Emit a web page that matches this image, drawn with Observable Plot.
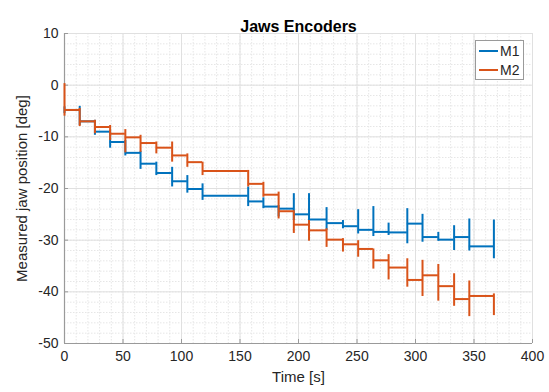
<!DOCTYPE html>
<html>
<head>
<meta charset="utf-8">
<script src="https://cdn.jsdelivr.net/npm/d3@7"></script>
<script src="https://cdn.jsdelivr.net/npm/@observablehq/plot@0.6"></script>
<style>
  html, body { margin: 0; padding: 0; background: #fff; }
</style>
</head>
<body>
<div id="chart"></div>
<script>
// ---- data ----
const title = "Jaws Encoders";
const seriesNames = ["M1", "M2"];
const seriesColors = ["#0072BD", "#D95319"];
// step breakpoints [s]
const times = [0, 13, 26, 39, 52, 65, 78.5, 92, 105, 118, 157, 170, 183, 196, 209, 224, 238, 251, 264, 277, 293, 306, 319.5, 333, 346, 367];
// value held on each interval [deg]
const m1Values = [-4.8, -7.0, -9.0, -11.0, -13.1, -15.2, -17.0, -18.6, -20.1, -21.4, -22.5, -23.5, -23.9, -25.0, -26.0, -26.7, -27.3, -28.0, -28.4, -28.5, -26.8, -29.4, -29.9, -29.4, -31.2];
const m2Values = [-4.8, -7.0, -8.1, -9.4, -10.1, -11.2, -12.1, -13.6, -14.9, -16.6, -19.1, -21.2, -24.4, -27.0, -28.1, -29.9, -30.8, -31.7, -33.9, -35.3, -37.7, -36.8, -38.9, -41.4, -40.8];
// vertical bar extent at each breakpoint
const m1Lo = [-5.5, -7.8, -9.7, -12.2, -13.7, -16.3, -17.5, -19.7, -20.9, -22.3, -23.5, -23.9, -25.5, -26.2, -27.5, -28.1, -27.8, -28.8, -29.3, -29.1, -30.7, -30.4, -30.2, -32.0, -32.1, -33.6];
const m1Hi = [-4.2, -4.1, -6.8, -8.8, -10.7, -12.8, -14.9, -15.9, -17.5, -19.1, -19.7, -21.8, -23.3, -21.0, -21.0, -23.7, -26.2, -24.1, -23.5, -26.7, -23.9, -25.0, -28.5, -27.2, -25.9, -26.1];
const m2Lo = [-6.0, -8.0, -9.4, -10.7, -13.1, -13.0, -13.3, -14.9, -15.9, -17.5, -19.7, -21.7, -25.9, -28.7, -30.2, -31.4, -32.3, -33.3, -35.6, -37.7, -39.1, -40.9, -41.8, -42.8, -44.8, -44.6];
const m2Hi = [0.3, -4.5, -6.8, -7.8, -8.6, -9.7, -11.0, -11.0, -13.3, -14.9, -16.5, -18.8, -20.7, -24.3, -26.2, -27.8, -29.7, -30.1, -31.7, -32.8, -33.6, -33.9, -34.7, -36.5, -37.9, -40.4];
// axes
const xTicks = [0, 50, 100, 150, 200, 250, 300, 350, 400];
const yTicks = [-50, -40, -30, -20, -10, 0, 10];
const xMinor = d3.range(0, 401, 10);
const yMinor = d3.range(-50, 11, 2);
const xLabel = "Time [s]";
const yLabel = "Measured jaw position [deg]";

// ---- tables built from the arrays ----
function segs(name, vals) {
  return vals.map((v, i) => ({series: name, x1: times[i], x2: times[i + 1], y: v}));
}
function bars(name, lo, hi) {
  return times.map((t, i) => ({series: name, x: t, y1: lo[i], y2: hi[i]}));
}
const segM1 = segs("M1", m1Values), segM2 = segs("M2", m2Values);
const barM1 = bars("M1", m1Lo, m1Hi), barM2 = bars("M2", m2Lo, m2Hi);

const font = "'Liberation Sans', Arial, Helvetica, sans-serif";
const plot = Plot.plot({
  width: 549,
  height: 392,
  marginLeft: 64,
  marginRight: 17,
  marginTop: 33,
  marginBottom: 49,
  style: {fontFamily: font, fontSize: "13px", background: "#fff", color: "#262626", overflow: "visible"},
  x: {domain: [0, 400]},
  y: {domain: [-50, 10]},
  color: {domain: seriesNames, range: seriesColors},
  marks: [
    Plot.ruleX(xMinor, {stroke: "#e6e6e6", strokeWidth: 1, strokeDasharray: "1.5,1.5"}),
    Plot.ruleY(yMinor, {stroke: "#e6e6e6", strokeWidth: 1, strokeDasharray: "1.5,1.5"}),
    Plot.ruleX(xTicks, {stroke: "#e0e0e0", strokeWidth: 1}),
    Plot.ruleY(yTicks, {stroke: "#e0e0e0", strokeWidth: 1}),
    Plot.ruleY([-50], {stroke: "#9a9a9a", strokeWidth: 1.2}),
    Plot.ruleX([0], {stroke: "#9a9a9a", strokeWidth: 1.2}),
    Plot.axisX({ticks: xTicks, tickSize: -4, tickPadding: 12, stroke: "#9a9a9a", fill: "#262626", fontSize: 14,
      tickFormat: d => String(d), label: null}),
    Plot.axisY({ticks: yTicks, tickSize: -4, tickPadding: 10, stroke: "#9a9a9a", fill: "#262626", fontSize: 14,
      tickFormat: d => String(d), label: null}),
    Plot.text([xLabel], {frameAnchor: "bottom", dy: 38, text: d => d, fontSize: 15, fill: "#262626"}),
    Plot.text([yLabel], {frameAnchor: "left", textAnchor: "middle", dx: -42, rotate: -90, text: d => d, fontSize: 15, fill: "#262626"}),
    Plot.ruleY(segM1, {x1: "x1", x2: "x2", y: "y", stroke: "series", strokeWidth: 2}),
    Plot.ruleX(barM1, {x: "x", y1: "y1", y2: "y2", stroke: "series", strokeWidth: 2}),
    Plot.ruleY(segM2, {x1: "x1", x2: "x2", y: "y", stroke: "series", strokeWidth: 2}),
    Plot.ruleX(barM2, {x: "x", y1: "y1", y2: "y2", stroke: "series", strokeWidth: 2}),
    Plot.text([title], {frameAnchor: "top", dy: -13, text: d => d, fontWeight: "bold", fontSize: 16, fill: "#000"})
  ]
});

// legend inside the axes (top-right)
const svg = d3.select(plot);
const lg = svg.append("g").attr("font-family", font).attr("font-size", 14).attr("text-anchor", "start");
lg.append("rect").attr("x", 475.5).attr("y", 40.5).attr("width", 48).attr("height", 39)
  .attr("fill", "#fff").attr("stroke", "#9a9a9a").attr("stroke-width", 1);
seriesNames.forEach((name, i) => {
  const yy = 51 + i * 19;
  lg.append("line").attr("x1", 479).attr("x2", 498).attr("y1", yy).attr("y2", yy)
    .attr("stroke", seriesColors[i]).attr("stroke-width", 2);
  lg.append("text").attr("x", 500).attr("y", yy).attr("dy", "0.35em").attr("fill", "#262626").text(name);
});

document.getElementById("chart").appendChild(plot);
</script>
</body>
</html>
